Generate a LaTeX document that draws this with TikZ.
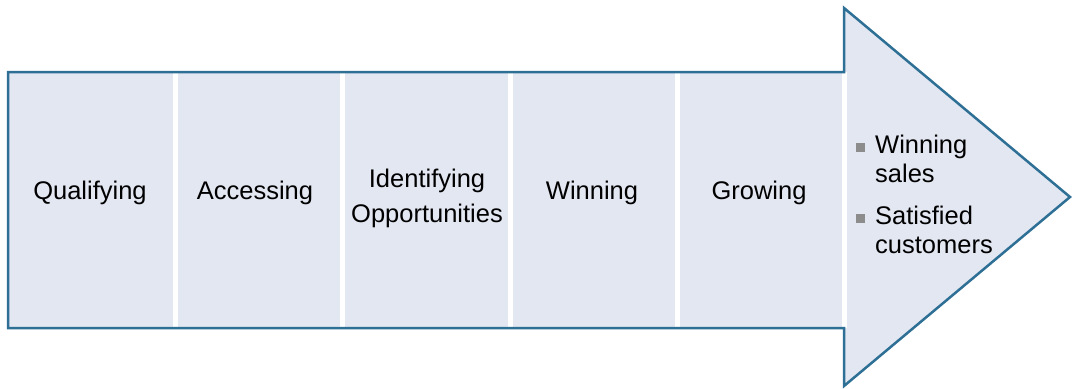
\documentclass[tikz,border=0pt]{standalone}
\usepackage{fontspec}
\setmainfont{Liberation Sans}
\definecolor{arrowfill}{HTML}{E3E7F2}
\definecolor{arrowline}{HTML}{2E6F95}
\definecolor{bulletgrey}{HTML}{8C8C8C}
\tikzset{
  stagelabel/.style={font=\fontsize{25.5}{35}\selectfont, align=center, text=black, inner sep=0pt, anchor=base},
  outlabel/.style={font=\fontsize{25.5}{28.5}\selectfont, align=left, text=black, inner sep=0pt, anchor=base west},
  divider/.style={draw=white, line width=5pt},
  bulletsq/.style={fill=bulletgrey, minimum size=9pt, inner sep=0pt},
}
\begin{document}
\begin{tikzpicture}[x=1pt,y=-1pt]
\useasboundingbox (0,0) rectangle (1073,388);
% arrow shape
\coordinate (bl) at (8,328);
\coordinate (tl) at (8,72);
\coordinate (tj) at (844,72);
\coordinate (ht) at (844,8);
\coordinate (tip) at (1070,197);
\coordinate (hb) at (844,386);
\coordinate (bj) at (844,328);
\fill[arrowfill] (tl) -- (tj) -- (ht) -- (tip) -- (hb) -- (bj) -- (bl) -- cycle;
% dividers
\foreach \x/\n in {175.5/d1,342.5/d2,510.5/d3,677.5/d4,844.5/d5}{
  \coordinate (\n t) at (\x,72);
  \coordinate (\n b) at (\x,328);
  \draw[divider] (\n t) -- (\n b);
}
\draw[arrowline, line width=2.5pt, line join=miter] (tl) -- (tj) -- (ht) -- (tip) -- (hb) -- (bj) -- (bl) -- cycle;
% stage labels
\node[stagelabel] (s1) at (90,199) {Qualifying};
\node[stagelabel] (s2) at (255,199) {Accessing};
\node[stagelabel] (s3) at (427,222) {Identifying\\Opportunities};
\node[stagelabel] (s4) at (592,199) {Winning};
\node[stagelabel] (s5) at (759,199) {Growing};
% outcomes
\node[outlabel] (o1) at (875,182) {Winning\\sales};
\node[outlabel] (o2) at (875,253) {Satisfied\\customers};
\node[bulletsq] (b1) at (860,147) {};
\node[bulletsq] (b2) at (860,218) {};
\end{tikzpicture}
\end{document}
